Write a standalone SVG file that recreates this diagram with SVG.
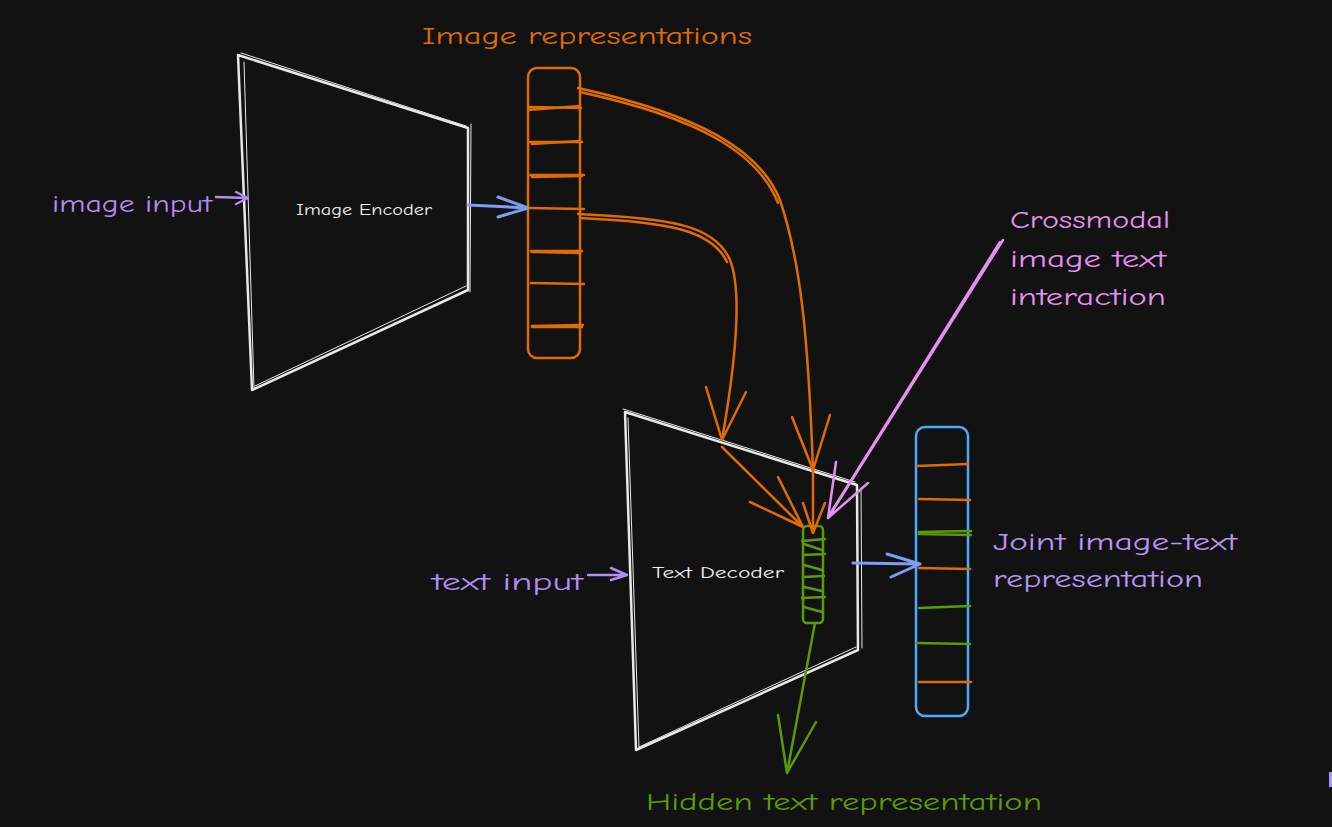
<svg xmlns="http://www.w3.org/2000/svg" width="1332" height="827" viewBox="0 0 1332 827">
<defs>
<style>
.bg{fill:#121212}
.w{fill:none;stroke:#e8e8e8;stroke-width:2.5;stroke-linejoin:round;stroke-linecap:round}
.w2{fill:none;stroke:#e8e8e8;stroke-width:1;stroke-linecap:round}
.or{fill:none;stroke:#e06c00;stroke-width:2.5;stroke-linecap:round;stroke-linejoin:round}
.gr{fill:none;stroke:#5a9a08;stroke-width:2.5;stroke-linecap:round;stroke-linejoin:round}
.bl{fill:none;stroke:#4dabf7;stroke-width:2.5;stroke-linecap:round;stroke-linejoin:round}
.pu{fill:none;stroke:#b28cf5;stroke-width:2.5;stroke-linecap:round;stroke-linejoin:round}
.lb{fill:none;stroke:#7f9cf5;stroke-width:3;stroke-linecap:round;stroke-linejoin:round}
.pk{fill:none;stroke:#e590f0;stroke-width:2.5;stroke-linecap:round;stroke-linejoin:round}
text{font-family:"Comic Neue","Open Sans","Liberation Sans",sans-serif}
.lbl{font-size:25px}
.node{font-size:15px;fill:#f0f0f0}
</style>
</defs>
<rect class="bg" x="0" y="0" width="1332" height="827"/>

<g id="image-encoder">
<path class="w" d="M238,55 L468,128 L468,290 L252,390 Z"/>
<path class="w2" d="M241,53 L466,126 M471,124 L470,292 M244,62 L254,388 M255,386 L466,286"/>
<text class="node" x="364" y="215" text-anchor="middle" textLength="136" lengthAdjust="spacingAndGlyphs">Image Encoder</text>
</g>

<g id="image-representations">
<rect class="or" x="528" y="68" width="52" height="290" rx="9"/>
<path class="or" d="M528,107 L581,108 M530,142 L582,142 M530,175 L584,175 M530,208 L584,209 M531,251 L582,251 M531,283 L584,284 M532,326 L583,325"/>
<path class="or" stroke-width="1" d="M528,110 L580,106 M532,144 L580,141 M532,177 L582,176 M532,252 L580,253 M532,327 L582,327"/>
<text class="lbl" x="422" y="44" fill="#e06c00" textLength="330" lengthAdjust="spacingAndGlyphs">Image representations</text>
</g>

<g id="text-decoder">
<path class="w" d="M625,412 L857,485 L858,650 L636,750 Z"/>
<path class="w2" d="M623,409 L855,482 M628,418 L639,748 M861,488 L862,648 M639,747 L856,647"/>
<text class="node" x="718" y="578" text-anchor="middle" textLength="132" lengthAdjust="spacingAndGlyphs">Text Decoder</text>
</g>

<g id="hidden-text-bar">
<rect class="gr" x="803" y="526" width="20" height="97" rx="4"/>
<path class="gr" stroke-width="2" d="M802,541 L825,539 M804,544 L822,550 M803,555 L825,554 M804,565 L822,570 M803,577 L824,576 M804,587 L822,591 M802,598 L825,597 M804,607 L822,612"/>
</g>

<g id="joint-representation">
<rect class="bl" x="916" y="427" width="52" height="289" rx="9"/>
<path class="or" d="M917,466 L968,464 M919,499 L970,500 M919,568 L970,569 M919,682 L971,682"/>
<path class="gr" d="M919,532 L971,531 M919,534 L971,535 M919,608 L970,606 M917,643 L970,644"/>
<text class="lbl" x="993" y="550" fill="#b795f5" textLength="244" lengthAdjust="spacingAndGlyphs">Joint image-text</text>
<text class="lbl" x="993" y="587" fill="#b795f5" textLength="210" lengthAdjust="spacingAndGlyphs">representation</text>
</g>

<g id="labels">
<text class="lbl" x="52" y="212" fill="#b28cf5" textLength="160" lengthAdjust="spacingAndGlyphs">image input</text>
<text class="lbl" x="432" y="590" fill="#b28cf5" textLength="151" lengthAdjust="spacingAndGlyphs">text input</text>
<text class="lbl" x="1010" y="228" fill="#e590f0" textLength="160" lengthAdjust="spacingAndGlyphs">Crossmodal</text>
<text class="lbl" x="1010" y="267" fill="#e590f0" textLength="156" lengthAdjust="spacingAndGlyphs">image text</text>
<text class="lbl" x="1010" y="305" fill="#e590f0" textLength="156" lengthAdjust="spacingAndGlyphs">interaction</text>
<text class="lbl" x="646" y="810" fill="#5a9a08" textLength="396" lengthAdjust="spacingAndGlyphs">Hidden text representation</text>
</g>

<g id="connectors">
<path class="pu" d="M216,197 L248,198 M236,192 L248,198 L236,204"/>
<path class="pu" d="M588,575 L627,575 M611,568 L627,575 L611,580"/>
<path class="lb" d="M468,205 L528,208 M498,197 L528,208 L498,217"/>
<path class="lb" d="M853,563 L920,564 M887,554 L920,564 L891,577"/>
<path class="or" d="M578,88 C700,115 760,150 780,200 C800,260 808,330 813,470"/>
<path class="or" stroke-width="1" d="M580,92 C700,118 758,153 778,203"/>
<path class="or" d="M792,417 L813,470 L830,415"/>
<path class="or" d="M813,470 L813,533 M803,503 L813,533 L825,503"/>
<path class="or" d="M578,214 C670,218 715,225 730,260 C742,290 736,360 722,440"/>
<path class="or" stroke-width="1" d="M580,218 C668,222 712,230 727,262"/>
<path class="or" d="M706,387 L722,440 L746,392"/>
<path class="or" d="M722,447 L803,527 M750,502 L803,527 L778,477"/>
<path class="pk" d="M1003,240 L828,518 M836,462 L828,518 L868,483"/>
<path class="pk" stroke-width="1" d="M1000,242 L830,514"/>
<path class="gr" d="M815,623 L787,773 M778,715 L787,773 L816,722"/>
</g>

<rect x="1329" y="772" width="3" height="15" fill="#a99cf0"/>
</svg>
